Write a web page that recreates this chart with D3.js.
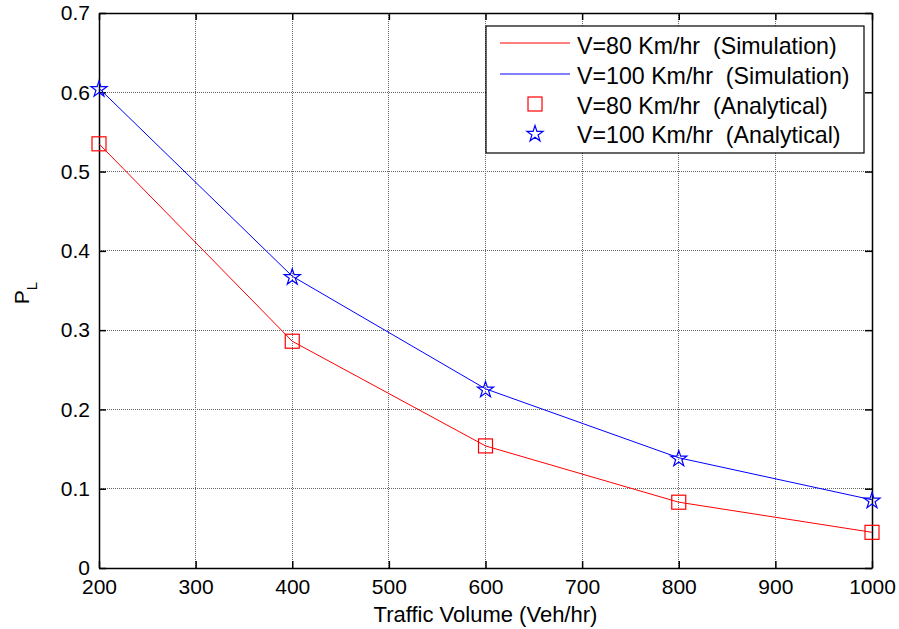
<!DOCTYPE html>
<head>
  <script src="https://cdn.jsdelivr.net/npm/d3@7"></script>
  <style>
    body { margin: 0; background: #fff; }
    text { font-family: "Liberation Sans", Arial, sans-serif; fill: #000; }
  </style>
</head>
<body>
<svg id="chart" width="899" height="629"></svg>
<script>
  // data
  const traffic = [200, 400, 600, 800, 1000];
  const pl80 = [0.535, 0.286, 0.154, 0.083, 0.045];
  const pl100 = [0.605, 0.368, 0.226, 0.139, 0.086];
  const xTicks = [200, 300, 400, 500, 600, 700, 800, 900, 1000];
  const yTicks = [0, 0.1, 0.2, 0.3, 0.4, 0.5, 0.6, 0.7];
  const legendLabels = [
    "V=80 Km/hr  (Simulation)",
    "V=100 Km/hr  (Simulation)",
    "V=80 Km/hr  (Analytical)",
    "V=100 Km/hr  (Analytical)"
  ];

  const pL = 99, pR = 872, pT = 13, pB = 568;
  const svg = d3.select("#chart");
  const x = d3.scaleLinear().domain([200, 1000]).range([pL, pR]);
  const y = d3.scaleLinear().domain([0, 0.7]).range([pB, pT]);

  // grid
  const grid = svg.append("g").attr("stroke", "#666").attr("stroke-width", 1)
      .attr("stroke-dasharray", "1,1").attr("shape-rendering", "crispEdges");
  grid.selectAll(".gx").data(xTicks.slice(1, -1)).join("line")
      .attr("x1", d => x(d)).attr("x2", d => x(d)).attr("y1", pT).attr("y2", pB);
  grid.selectAll(".gy").data(yTicks.slice(1, -1)).join("line")
      .attr("y1", d => y(d)).attr("y2", d => y(d)).attr("x1", pL).attr("x2", pR);

  // axes with inward ticks on all sides
  const fmt = d => d === 0 ? "0" : d3.format(".1f")(d);
  const ax = (sel) => sel.selectAll(".domain").attr("stroke", "#000").attr("stroke-width", 1.5);
  const lab = g => g.selectAll("text").attr("font-size", 21).attr("font-family", "Liberation Sans, Arial");
  svg.append("g").attr("transform", `translate(0,${pB})`)
      .call(d3.axisBottom(x).tickValues(xTicks).tickFormat(d3.format("d")).tickSizeInner(-7).tickSizeOuter(0).tickPadding(11))
      .call(ax).call(lab);
  svg.append("g").attr("transform", `translate(0,${pT})`)
      .call(d3.axisTop(x).tickValues(xTicks).tickSizeInner(-7).tickSizeOuter(0).tickFormat(""))
      .call(ax);
  svg.append("g").attr("transform", `translate(${pL},0)`)
      .call(d3.axisLeft(y).tickValues(yTicks).tickFormat(fmt).tickSizeInner(-7).tickSizeOuter(0).tickPadding(9))
      .call(ax).call(lab);
  svg.append("g").attr("transform", `translate(${pR},0)`)
      .call(d3.axisRight(y).tickValues(yTicks).tickSizeInner(-7).tickSizeOuter(0).tickFormat(""))
      .call(ax);
  svg.selectAll(".tick line").attr("stroke", "#000").attr("stroke-width", 1.5);

  // titles
  svg.append("text").attr("x", (pL + pR) / 2).attr("y", 622).attr("text-anchor", "middle")
      .attr("font-size", 22).text("Traffic Volume (Veh/hr)");
  const yt = svg.append("text").attr("transform", "translate(29,293) rotate(-90)")
      .attr("text-anchor", "middle").attr("font-size", 21);
  yt.append("tspan").text("P");
  yt.append("tspan").attr("font-size", 15).attr("dy", 8).text("L");

  // lines
  const line = d3.line().x((d, i) => x(traffic[i])).y(d => y(d));
  svg.append("path").datum(pl80).attr("d", line).attr("fill", "none").attr("stroke", "#ff0000").attr("stroke-width", 1);
  svg.append("path").datum(pl100).attr("d", line).attr("fill", "none").attr("stroke", "#0000ff").attr("stroke-width", 1);

  // markers
  const star = d3.symbol().type(d3.symbolStar).size(80);
  svg.selectAll(".sq").data(pl80).join("rect")
      .attr("x", (d, i) => x(traffic[i]) - 7).attr("y", d => y(d) - 7)
      .attr("width", 14).attr("height", 14).attr("fill", "none").attr("stroke", "#ff0000").attr("stroke-width", 1.2);
  svg.selectAll(".st").data(pl100).join("path")
      .attr("d", star).attr("transform", (d, i) => `translate(${x(traffic[i])},${y(d) + 1})`)
      .attr("fill", "none").attr("stroke", "#0000ff").attr("stroke-width", 1.2);

  // legend
  const lg = svg.append("g");
  lg.append("rect").attr("x", 486).attr("y", 26).attr("width", 378).attr("height", 127)
      .attr("fill", "#fff").attr("stroke", "#000").attr("stroke-width", 1.2);
  const baselines = [54, 84, 114, 143];
  lg.append("line").attr("x1", 500).attr("x2", 570).attr("y1", 43).attr("y2", 43).attr("stroke", "#ff0000").attr("stroke-width", 1);
  lg.append("line").attr("x1", 500).attr("x2", 570).attr("y1", 74).attr("y2", 74).attr("stroke", "#0000ff").attr("stroke-width", 1);
  lg.append("rect").attr("x", 528).attr("y", 97).attr("width", 14).attr("height", 14)
      .attr("fill", "none").attr("stroke", "#ff0000").attr("stroke-width", 1.2);
  lg.append("path").attr("d", star).attr("transform", "translate(535,134)")
      .attr("fill", "none").attr("stroke", "#0000ff").attr("stroke-width", 1.2);
  lg.selectAll(".lt").data(legendLabels).join("text")
      .attr("x", 577).attr("y", (d, i) => baselines[i]).attr("font-size", 23.2)
      .attr("xml:space", "preserve").style("white-space", "pre").text(d => d);
</script>
</body>
